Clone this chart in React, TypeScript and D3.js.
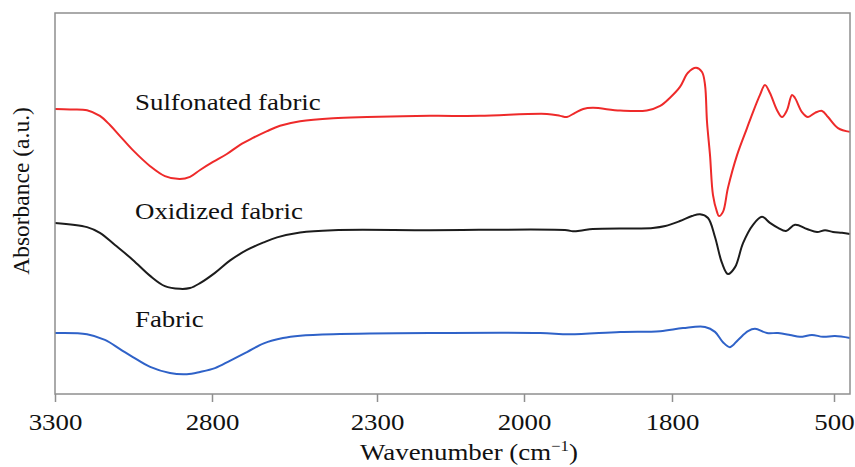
import React, { useEffect, useRef } from "react";
import * as d3 from "d3";

// wavenumber ticks (the axis is not linear, each interval has its own width)
const tickValues = [3300, 2800, 2300, 2000, 1800, 500];
const axisEnd = 372;

// [wavenumber, absorbance a.u.]
const sulfonated: [number, number][] = [
  [3300, 0.748], [3252, 0.747], [3198, 0.745], [3157, 0.73], [3125, 0.706],
  [3093, 0.677], [3052, 0.64], [2997, 0.598], [2950, 0.572], [2902, 0.564],
  [2870, 0.57], [2838, 0.588], [2797, 0.609], [2755, 0.63], [2715, 0.654],
  [2676, 0.672], [2633, 0.69], [2594, 0.704], [2533, 0.716], [2433, 0.724],
  [2330, 0.727], [2192, 0.73], [2090, 0.73], [1969, 0.735], [1951, 0.73],
  [1942, 0.727], [1931, 0.738], [1920, 0.748], [1907, 0.751], [1870, 0.744],
  [1834, 0.744], [1816, 0.756], [1803, 0.777], [1736, 0.806], [1672, 0.843],
  [1607, 0.856], [1559, 0.845], [1535, 0.811], [1519, 0.714], [1495, 0.627],
  [1471, 0.522], [1439, 0.478], [1423, 0.467], [1391, 0.478], [1351, 0.541],
  [1278, 0.627], [1198, 0.698], [1150, 0.74], [1094, 0.785], [1054, 0.811],
  [1014, 0.79], [957, 0.745], [917, 0.727], [877, 0.745], [837, 0.785],
  [813, 0.777], [757, 0.74], [709, 0.727], [652, 0.738], [596, 0.743],
  [548, 0.727], [468, 0.698], [372, 0.688],
];

const oxidized: [number, number][] = [
  [3300, 0.449], [3198, 0.438], [3157, 0.423], [3109, 0.391], [3052, 0.352],
  [2997, 0.31], [2950, 0.283], [2902, 0.276], [2870, 0.278], [2838, 0.291],
  [2791, 0.318], [2746, 0.35], [2694, 0.378], [2643, 0.398], [2603, 0.411],
  [2533, 0.424], [2433, 0.43], [2192, 0.43], [1942, 0.43], [1934, 0.427],
  [1920, 0.43], [1907, 0.433], [1826, 0.436], [1809, 0.441], [1736, 0.454],
  [1640, 0.467], [1575, 0.472], [1511, 0.462], [1455, 0.412], [1399, 0.344],
  [1351, 0.315], [1294, 0.333], [1230, 0.396], [1150, 0.444], [1078, 0.465],
  [1014, 0.449], [949, 0.436], [885, 0.428], [813, 0.444], [717, 0.433],
  [636, 0.425], [572, 0.43], [508, 0.425], [436, 0.423], [372, 0.42],
];

const fabric: [number, number][] = [
  [3300, 0.16], [3198, 0.157], [3141, 0.142], [3093, 0.118], [3052, 0.097],
  [2997, 0.071], [2934, 0.055], [2880, 0.052], [2838, 0.058], [2791, 0.068],
  [2746, 0.087], [2694, 0.11], [2643, 0.133], [2585, 0.147], [2533, 0.153],
  [2433, 0.157], [2192, 0.16], [1978, 0.16], [1938, 0.157], [1870, 0.163],
  [1816, 0.165], [1712, 0.173], [1535, 0.176], [1455, 0.163], [1391, 0.136],
  [1335, 0.123], [1270, 0.142], [1190, 0.165], [1134, 0.171], [1038, 0.16],
  [949, 0.16], [853, 0.155], [773, 0.15], [677, 0.155], [588, 0.15],
  [492, 0.152], [372, 0.147],
];

const series = [
  { name: "Sulfonated fabric", data: sulfonated, color: "#ee2a2a", label: 0.745 },
  { name: "Oxidized fabric", data: oxidized, color: "#1c1c1c", label: 0.459 },
  { name: "Fabric", data: fabric, color: "#2f62c8", label: 0.176 },
];

const Chart = () => {
  const ref = useRef<SVGSVGElement>(null);

  useEffect(() => {
    const left = 55, right = 850, top = 13, bottom = 394;
    const stretch = "scale(1.12,1)";

    const x = d3
      .scaleLinear()
      .domain([...tickValues, axisEnd])
      .range([55, 212, 377, 524, 672, 834, 850]);

    const y = d3.scaleLinear().domain([0, 1]).range([bottom, top]);

    const svg = d3.select(ref.current);
    svg.selectAll("*").remove();

    const line = d3
      .line<[number, number]>()
      .x((d) => x(d[0]))
      .y((d) => y(d[1]))
      .curve(d3.curveCatmullRom.alpha(0.5));

    series.forEach((s) => {
      svg
        .append("path")
        .datum(s.data)
        .attr("d", line)
        .attr("fill", "none")
        .attr("stroke", s.color)
        .attr("stroke-width", 2);

      svg
        .append("text")
        .attr("transform", `translate(135,${y(s.label)}) ${stretch}`)
        .attr("font-size", 24)
        .attr("fill", "#111")
        .text(s.name);
    });

    // frame
    svg
      .append("rect")
      .attr("x", left)
      .attr("y", top)
      .attr("width", right - left)
      .attr("height", bottom - top)
      .attr("fill", "none")
      .attr("stroke", "#8f8f8f")
      .attr("stroke-width", 1.5);

    const xAxis = svg
      .append("g")
      .attr("transform", `translate(0,${bottom})`)
      .call(d3.axisBottom(x).tickValues(tickValues).tickSize(8).tickPadding(11).tickFormat(d3.format("d")));

    xAxis.select(".domain").remove();
    xAxis.selectAll(".tick line").attr("stroke", "#8f8f8f").attr("stroke-width", 1.5);
    xAxis
      .selectAll(".tick text")
      .attr("font-family", "'Liberation Serif', 'Times New Roman', serif")
      .attr("font-size", 24)
      .attr("fill", "#111")
      .attr("transform", stretch);

    const title = svg
      .append("text")
      .attr("transform", `translate(469,460) ${stretch}`)
      .attr("text-anchor", "middle")
      .attr("font-size", 24)
      .attr("fill", "#111");
    title.append("tspan").text("Wavenumber (cm");
    title.append("tspan").attr("font-size", 15).attr("dy", -9).text("\u22121");
    title.append("tspan").attr("dy", 9).text(")");

    svg
      .append("text")
      .attr("transform", "translate(29,191) rotate(-90)")
      .attr("text-anchor", "middle")
      .attr("font-size", 23.5)
      .attr("fill", "#111")
      .text("Absorbance (a.u.)");
  }, []);

  return (
    <svg
      ref={ref}
      width={855}
      height={467}
      style={{
        position: "absolute",
        left: 0,
        top: 0,
        background: "#fff",
        fontFamily: "'Liberation Serif', 'Times New Roman', serif",
      }}
    ></svg>
  );
};

export default function App() {
  return <Chart />;
}
